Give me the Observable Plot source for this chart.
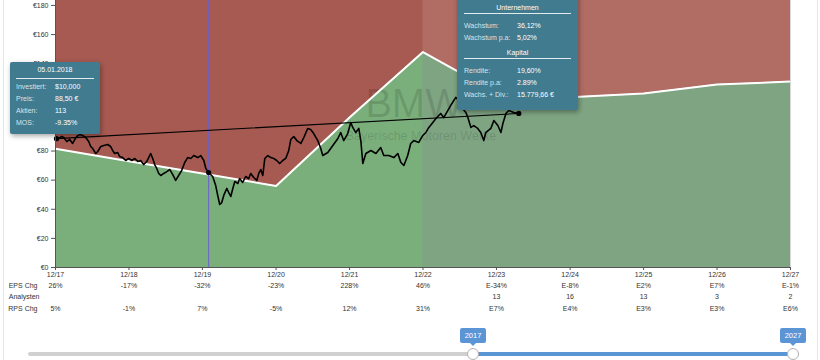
<!DOCTYPE html>
<html>
<head>
<meta charset="utf-8">
<script src="https://cdn.jsdelivr.net/npm/d3@7"></script>
<script src="https://cdn.jsdelivr.net/npm/@observablehq/plot@0.6"></script>
<style>
  body { margin: 0; background: #fff; font-family: "Liberation Sans", Arial, sans-serif; }
  #wrap { position: relative; width: 820px; height: 360px; overflow: hidden; }
  #frame { position: absolute; left: 3px; top: -2px; width: 813px; height: 370px; border-left: 1px solid #e6e6e6; border-right: 1px solid #e6e6e6; pointer-events: none; }
  #chart { position: absolute; left: 0; top: 0; }
  .tip { position: absolute; background: #417b8f; color: #fff; font-size: 7px; box-shadow: 1px 2px 5px rgba(0,0,0,0.35); border-radius: 2px; }
  .tip div { position: absolute; height: 10px; line-height: 10px; white-space: nowrap; }
  .tip .hdr { left: 0; right: 0; text-align: center; }
  .tip .sep { height: 0; line-height: 0; border-top: 1px solid rgba(255,255,255,0.85); }
  .trk { position: absolute; top: 352px; height: 4px; border-radius: 2px; }
  .hdl { position: absolute; top: 348px; width: 10px; height: 10px; margin-left: -6px; border-radius: 50%; background: #fff; border: 1px solid #b0b0b0; }
  .lbl { position: absolute; top: 328px; width: 26px; margin-left: -13px; height: 15px; line-height: 15px; text-align: center; background: #5b95d6; color: #fff; font-size: 7.5px; border-radius: 2px; }
  .lbl:after { content: ""; position: absolute; left: 10px; top: 15px; border-left: 3px solid transparent; border-right: 3px solid transparent; border-top: 3px solid #5b95d6; }
</style>
</head>
<body>
<div id="wrap">
  <div id="chart"></div>
  <div id="frame"></div>
</div>
<script>
// ---- data ----
const tickDates  = ["2017-12-31","2018-12-31","2019-12-31","2020-12-31","2021-12-31","2022-12-31","2023-12-31","2024-12-31","2025-12-31","2026-12-31","2027-12-31"];
const tickLabels = ["12/17","12/18","12/19","12/20","12/21","12/22","12/23","12/24","12/25","12/26","12/27"];
const fairValue  = [81.5, 73, 64.5, 56, 103, 148, 120, 117, 119.5, 125.7, 127.7];
const epsChg     = ["26%","-17%","-32%","-23%","228%","46%","E-34%","E-8%","E2%","E7%","E-1%"];
const analysten  = ["","","","","","","13","16","13","3","2"];
const rpsChg     = ["5%","-1%","7%","-5%","12%","31%","E7%","E4%","E3%","E3%","E6%"];
const forecastStart = "2022-12-31";
const markerDate = "2020-01-31";
const yTicks = [0,20,40,60,80,100,120,140,160,180];
const yMax = 183.4;

const priceDates = [
"2018-01-05","2018-01-16","2018-01-31","2018-02-10","2018-02-25","2018-03-12","2018-03-26","2018-04-15","2018-04-30","2018-05-15",
"2018-05-30","2018-06-14","2018-06-24","2018-07-04","2018-07-19","2018-07-29","2018-08-13","2018-08-28","2018-09-16","2018-10-01",
"2018-10-11","2018-10-21","2018-11-05","2018-11-15","2018-11-30","2018-12-15","2018-12-30","2019-01-14","2019-01-29","2019-02-13",
"2019-02-27","2019-03-14","2019-03-29","2019-04-08","2019-04-18","2019-04-28","2019-05-08","2019-05-18","2019-05-28","2019-06-07",
"2019-06-22","2019-07-07","2019-07-22","2019-08-05","2019-08-20","2019-09-04","2019-09-19","2019-10-04","2019-10-19","2019-11-03",
"2019-11-18","2019-12-08","2019-12-23","2020-01-07","2020-01-17","2020-01-31","2020-02-20","2020-03-06","2020-03-16","2020-03-26",
"2020-04-05","2020-04-15","2020-04-30","2020-05-10","2020-05-20","2020-05-30","2020-06-09","2020-06-24","2020-07-03","2020-07-18",
"2020-08-02","2020-08-17","2020-08-27","2020-09-11","2020-09-26","2020-10-06","2020-10-16","2020-10-26","2020-11-05","2020-11-20",
"2020-12-05","2020-12-19","2021-01-03","2021-01-18","2021-02-02","2021-02-17","2021-03-04","2021-03-14","2021-03-29","2021-04-13",
"2021-05-03","2021-05-18","2021-06-06","2021-06-21","2021-07-06","2021-07-26","2021-08-10","2021-08-20","2021-09-14","2021-10-09",
"2021-11-03","2021-11-17","2021-12-02","2021-12-22","2022-01-06","2022-01-16","2022-01-31","2022-02-15","2022-02-25","2022-03-07",
"2022-03-22","2022-04-16","2022-05-11","2022-06-04","2022-06-19","2022-07-14","2022-08-08","2022-08-28","2022-09-12","2022-09-27",
"2022-10-16","2022-10-31","2022-11-15","2022-12-10","2022-12-30","2023-01-14","2023-01-29","2023-02-18","2023-03-05","2023-03-29",
"2023-04-13","2023-05-03","2023-05-18","2023-06-02","2023-06-12","2023-06-27","2023-07-07","2023-08-01","2023-08-11","2023-08-26",
"2023-09-09","2023-09-29","2023-10-14","2023-10-29","2023-11-08","2023-12-03","2023-12-18","2024-01-07","2024-01-22","2024-02-01",
"2024-02-16","2024-03-01","2024-03-26","2024-04-20"];
const priceValues = [
88.5, 88.6, 90.0, 89.3, 86.5, 87.9, 85.2, 90.0, 91.3, 90.7,
89.3, 86.5, 83.1, 81.7, 78.3, 79.7, 83.1, 83.8, 84.5, 83.1,
80.4, 78.3, 79.0, 76.2, 75.5, 73.5, 74.9, 73.5, 74.9, 72.8,
73.5, 70.7, 72.8, 75.5, 78.3, 74.9, 70.7, 68.0, 64.6, 63.2,
64.6, 65.9, 67.3, 63.9, 59.8, 63.2, 66.6, 72.1, 75.5, 74.9,
76.9, 75.5, 76.9, 73.5, 68.0, 65.2, 62.5, 56.3, 49.5, 43.3,
44.6, 49.5, 54.3, 51.5, 48.8, 54.3, 59.1, 57.7, 61.1, 58.4,
62.5, 61.1, 64.6, 61.8, 59.8, 64.6, 67.3, 63.2, 74.9, 76.9,
75.5, 74.9, 73.5, 71.4, 73.5, 74.9, 80.4, 87.9, 90.0, 87.2,
85.2, 89.3, 95.5, 94.8, 92.0, 87.2, 81.7, 76.9, 79.0, 83.8,
88.6, 92.7, 87.2, 92.0, 99.6, 96.2, 92.7, 95.5, 87.2, 71.4,
78.3, 80.4, 78.3, 82.4, 76.9, 76.9, 75.5, 78.3, 72.1, 70.1,
76.9, 85.2, 87.2, 85.9, 90.7, 92.7, 96.2, 99.6, 102.3, 105.8,
103.0, 107.8, 111.3, 114.7, 116.8, 114.7, 110.6, 106.5, 103.0, 96.2,
97.5, 95.5, 92.7, 87.2, 92.7, 95.5, 101.0, 97.5, 92.7, 98.9,
105.8, 107.8, 106.5, 105.8];

// ---- build ----
const parse = d3.utcParse("%Y-%m-%d");
const fv = tickDates.map((d, i) => ({date: parse(d), value: fairValue[i]}));
const split = parse(forecastStart);
const fvA = fv.filter(d => d.date <= split);
const price = priceDates.map((d, i) => ({date: parse(d), value: priceValues[i]}));
const first = price[0], last = price[price.length - 1];
const marker = price.find(d => +d.date === +parse(markerDate));
const table = tickDates.map((d, i) => ({date: parse(d), eps: epsChg[i], an: analysten[i], rps: rpsChg[i]}));
const labelMap = new Map(tickDates.map((d, i) => [+parse(d), tickLabels[i]]));
const font = "'Liberation Sans', Arial, sans-serif";

const chart = Plot.plot({
  width: 820, height: 320,
  marginLeft: 55, marginRight: 30, marginTop: 0, marginBottom: 53,
  x: {type: "utc", domain: [parse(tickDates[0]), parse(tickDates[tickDates.length - 1])]},
  y: {domain: [0, yMax]},
  style: {fontFamily: font, fontSize: "7px", color: "#333", background: "transparent"},
  marks: [
    // forecast-period colours underneath, historical colours on top (no seam)
    Plot.areaY(fv, {x: "date", y1: "value", y2: yMax, fill: "#b16c64"}),
    Plot.areaY(fv, {x: "date", y1: 0, y2: "value", fill: "#7ea482"}),
    Plot.areaY(fvA, {x: "date", y1: "value", y2: yMax, fill: "#a65a51"}),
    Plot.areaY(fvA, {x: "date", y1: 0, y2: "value", fill: "#7aae7b"}),
    Plot.text(["BMW"], {frameAnchor: "middle", dx: -9, dy: -30, fontSize: 40, fill: "#000", fillOpacity: 0.13}),
    Plot.text(["Bayerische Motoren Werke"], {frameAnchor: "middle", dx: -2, dy: 2, fontSize: 12.5, fill: "#000", fillOpacity: 0.13}),
    Plot.line(fv, {x: "date", y: "value", stroke: "#fff", strokeWidth: 2}),
    Plot.ruleX([marker.date], {stroke: "#6b5fd0", strokeWidth: 1}),
    Plot.line(price, {x: "date", y: "value", stroke: "#000", strokeWidth: 1.6}),
    Plot.line([first, last], {x: "date", y: "value", stroke: "#000", strokeWidth: 1.1}),
    Plot.dot([first, marker, last], {x: "date", y: "value", r: 2.6, fill: "#000"}),
    Plot.ruleY([0], {stroke: "#555"}),
    Plot.ruleX([parse(tickDates[0])], {stroke: "#555"}),
    Plot.ruleX([parse(tickDates[tickDates.length - 1])], {stroke: "#d8d8d8"}),
    Plot.axisY({ticks: yTicks, tickFormat: d => "€" + d, tickSize: 4, tickPadding: 3, label: null, fontSize: 7, stroke: "#555"}),
    Plot.axisX({ticks: tickDates.map(parse), tickFormat: d => labelMap.get(+d), tickSize: 3, tickPadding: 1.5, label: null, fontSize: 7, stroke: "#555"}),
    Plot.text(table, {x: "date", text: "eps", frameAnchor: "bottom", dy: 20, fontSize: 7, fill: "#333"}),
    Plot.text(table, {x: "date", text: "an", frameAnchor: "bottom", dy: 31.5, fontSize: 7, fill: "#333"}),
    Plot.text(table, {x: "date", text: "rps", frameAnchor: "bottom", dy: 43, fontSize: 7, fill: "#333"}),
    Plot.text(["EPS Chg"], {frameAnchor: "bottom-left", dx: -18, dy: 20, textAnchor: "end", fontSize: 7, fill: "#333"}),
    Plot.text(["Analysten"], {frameAnchor: "bottom-left", dx: -16, dy: 31.5, textAnchor: "end", fontSize: 7, fill: "#333"}),
    Plot.text(["RPS Chg"], {frameAnchor: "bottom-left", dx: -18, dy: 43, textAnchor: "end", fontSize: 7, fill: "#333"})
  ]
});
document.getElementById("chart").appendChild(chart);

// ---- tooltips & slider (HTML) ----
const leftTip = {
  header: "05.01.2018",
  rows: [["Investiert:", "$10,000"], ["Preis:", "88,50 €"], ["Aktien:", "113"], ["MOS:", "-9.35%"]]
};
const rightTip = {
  sections: [
    {title: "Unternehmen", rows: [["Wachstum:", "36,12%"], ["Wachstum p.a:", "5,02%"]]},
    {title: "Kapital", rows: [["Rendite:", "19,60%"], ["Rendite p.a:", "2.89%"], ["Wachs. + Div.:", "15.779,66 €"]]}
  ]
};
const sliderRange = ["2017", "2027"];

function el(parent, cls, style, text) {
  const d = document.createElement("div");
  if (cls) d.className = cls;
  Object.assign(d.style, style);
  if (text != null) d.textContent = text;
  parent.appendChild(d);
  return d;
}
const wrap = document.getElementById("wrap");

const t1 = el(wrap, "tip", {left: "10px", top: "62px", width: "90px", height: "72px"});
el(t1, "hdr", {top: "3px"}, leftTip.header);
el(t1, "sep", {top: "16px", left: "6px", right: "6px"});
leftTip.rows.forEach((r, i) => {
  el(t1, null, {top: (20 + i * 12) + "px", left: "6px", color: "rgba(255,255,255,0.8)"}, r[0]);
  el(t1, null, {top: (20 + i * 12) + "px", left: "45px"}, r[1]);
});

const t2 = el(wrap, "tip", {left: "457px", top: "-6px", width: "121px", height: "116px"});
let yy = 9;
rightTip.sections.forEach((s, si) => {
  el(t2, "hdr", {top: yy + "px"}, s.title);
  el(t2, "sep", {top: (yy + 10) + "px", left: "7px", right: "7px"});
  yy += 18;
  s.rows.forEach(r => {
    el(t2, null, {top: yy + "px", left: "7px", color: "rgba(255,255,255,0.8)"}, r[0]);
    el(t2, null, {top: yy + "px", left: "60px"}, r[1]);
    yy += 12;
  });
  yy += 3;
});

el(wrap, "trk", {left: "28px", width: "445px", background: "#d0d0d0"});
el(wrap, "trk", {left: "473px", width: "320px", background: "#5b95d6"});
el(wrap, "hdl", {left: "473px"});
el(wrap, "hdl", {left: "793px"});
el(wrap, "lbl", {left: "473px"}, sliderRange[0]);
el(wrap, "lbl", {left: "793px"}, sliderRange[1]);
</script>
</body>
</html>
